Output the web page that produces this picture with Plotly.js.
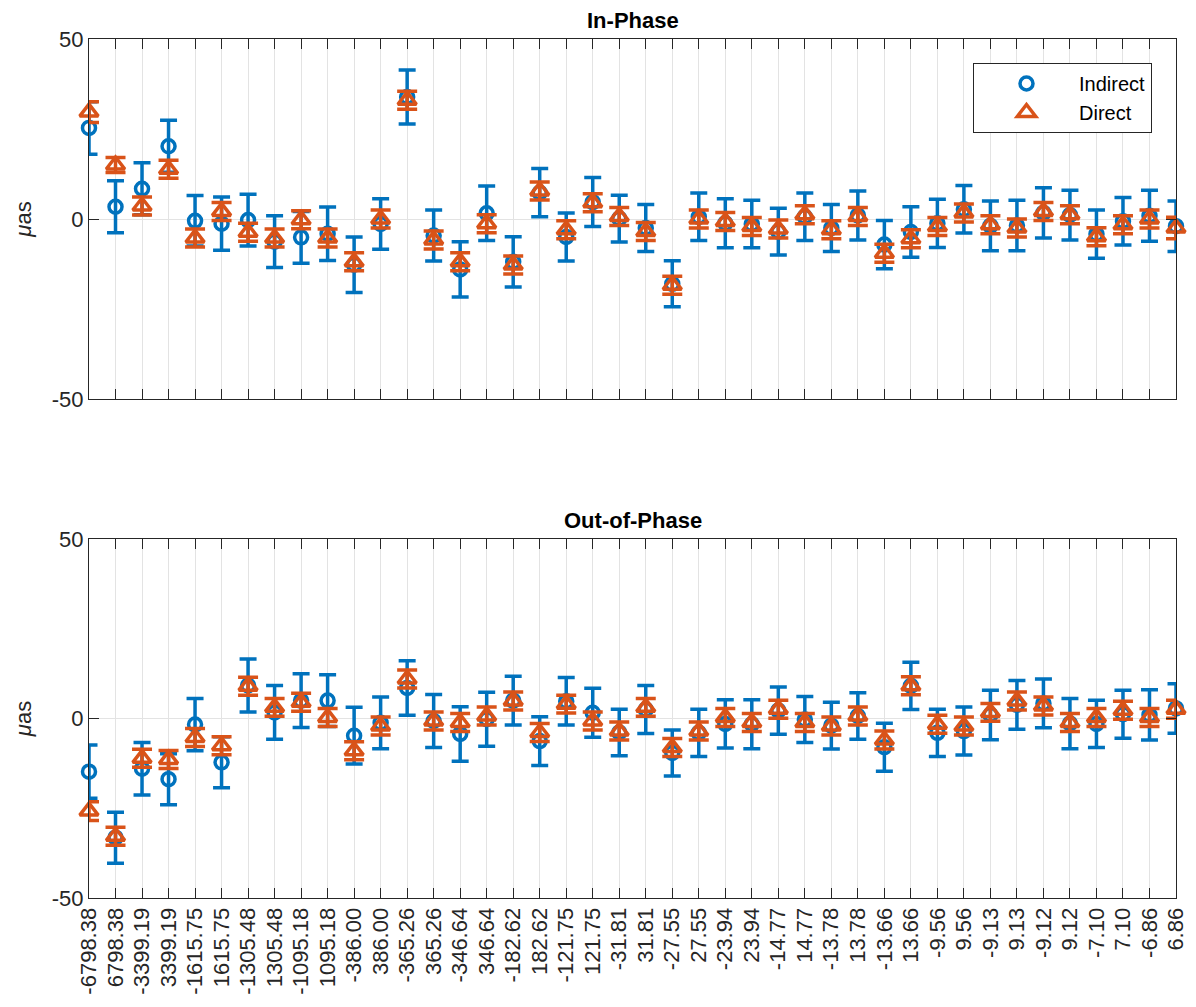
<!DOCTYPE html>
<html>
<head>
<meta charset="utf-8">
<script src="https://cdn.plot.ly/plotly-3.0.1.min.js"></script>
<style>html,body{margin:0;padding:0;background:#fff;}#chart{width:1196px;height:1007px;}</style>
</head>
<body>
<div id="chart"></div>
<script>
const periods = ["-6798.38","6798.38","-3399.19","3399.19","-1615.75","1615.75","-1305.48","1305.48","-1095.18","1095.18","-386.00","386.00","-365.26","365.26","-346.64","346.64","-182.62","182.62","-121.75","121.75","-31.81","31.81","-27.55","27.55","-23.94","23.94","-14.77","14.77","-13.78","13.78","-13.66","13.66","-9.56","9.56","-9.13","9.13","-9.12","9.12","-7.10","7.10","-6.86","6.86"];

// In-Phase
const inIndirect = [25.3,3.4,8.4,20.2,-0.5,-1.3,-0.3,-6.3,-5.1,-4.1,-12.7,-1.4,33.9,-4.6,-14.0,1.6,-11.9,7.3,-5.0,4.7,0.1,-2.5,-18.0,0.6,-1.2,-1.4,-3.5,0.6,-2.5,1.0,-7.1,-3.6,-1.2,2.7,-1.9,-1.8,1.7,1.1,-4.2,-0.6,0.9,-2.0];
const inIndirectErr = [7.3,7.2,7.2,7.2,7.0,7.4,7.2,7.2,7.2,7.4,7.7,7.0,7.5,7.1,7.7,7.6,7.0,6.7,6.7,6.8,6.5,6.5,6.4,6.6,6.8,6.6,6.5,6.6,6.5,6.8,6.7,7.0,6.7,6.6,6.9,7.0,7.0,6.9,6.7,6.6,7.1,7.0];
const inDirect = [29.7,15.0,3.6,13.8,-5.3,2.1,-3.7,-5.3,-0.2,-5.3,-11.9,0.0,33.0,-5.8,-11.9,-1.3,-12.8,7.8,-3.0,4.5,0.7,-3.5,-18.4,0.0,-0.7,-2.1,-2.8,1.2,-3.0,0.7,-9.5,-5.5,-2.1,1.7,-1.6,-2.5,2.1,1.2,-4.9,-1.6,0.0,-2.5];
const inDirectErr = [2.9,2.1,2.5,2.5,2.5,2.5,2.5,2.5,2.5,2.5,2.5,2.5,2.5,2.5,2.5,2.5,2.5,2.5,2.5,2.5,2.5,2.5,2.5,2.5,2.5,2.5,2.5,2.5,2.5,2.5,2.5,2.5,2.5,2.5,2.5,2.5,2.5,2.5,2.5,2.5,2.5,3.0];

// Out-of-Phase
const outIndirect = [-14.8,-33.2,-14.0,-16.9,-1.7,-12.2,9.2,1.7,5.0,5.0,-4.8,-1.2,8.5,-0.7,-4.3,-0.2,5.0,-6.3,4.8,1.6,-3.9,2.5,-9.6,-4.0,-1.5,-1.6,2.2,-0.3,-2.0,0.7,-8.0,9.1,-4.0,-3.5,1.0,3.8,4.2,-1.4,-1.5,1.2,1.0,2.8];
const outIndirectErr = [7.4,7.1,7.3,7.1,7.3,7.1,7.4,7.5,7.5,7.2,7.9,7.2,7.6,7.4,7.6,7.5,6.8,6.8,6.6,6.8,6.5,6.7,6.4,6.6,6.7,6.8,6.6,6.4,6.5,6.5,6.7,6.6,6.6,6.7,6.9,6.8,6.8,7.0,6.6,6.7,7.0,6.9];
const outDirect = [-25.8,-32.8,-11.1,-11.4,-5.3,-7.6,9.0,3.1,4.5,0.3,-9.0,-2.1,11.0,-0.7,-1.1,0.7,4.9,-3.9,4.0,-0.7,-3.5,3.1,-8.1,-3.5,0.3,-1.1,2.6,-1.1,-2.1,0.7,-6.0,9.1,-1.6,-2.1,1.7,4.9,3.5,-1.1,0.3,2.3,0.3,2.6];
const outDirectErr = [2.6,2.5,2.5,2.5,2.5,2.5,2.5,2.5,2.5,2.5,2.5,2.5,2.5,2.5,2.5,2.5,2.5,2.5,2.5,2.5,2.5,2.5,2.5,2.5,2.5,2.5,2.5,2.5,2.5,2.5,2.5,2.5,2.5,2.5,2.5,2.5,2.5,2.5,2.5,2.5,2.5,2.5];

const yTicks = [-50, 0, 50];
const yTickText = ["-50", "0", "50"];

const idx = periods.map((_, i) => i + 1);
const blue = '#0072BD', orange = '#D95319';
const FONT = 'Liberation Sans, Arial, Helvetica, sans-serif';

function mk(name, y, err, color, symbol, size, xa, ya, showlegend, capw) {
  return {
    type: 'scatter', mode: 'markers', name: name, x: idx, y: y,
    xaxis: xa, yaxis: ya, showlegend: showlegend, legendgroup: name,
    cliponaxis: false,
    marker: {symbol: symbol, size: size, color: color, line: {color: color, width: 3.5}},
    error_y: {type: 'data', array: err, visible: true, color: color, thickness: 3.5, width: capw}
  };
}

const traces = [
  mk('Indirect', inIndirect, inIndirectErr, blue, 'circle-open', 13, 'x', 'y', true, 8.5),
  mk('Direct', inDirect, inDirectErr, orange, 'triangle-up-open', 16, 'x', 'y', true, 10),
  mk('Indirect', outIndirect, outIndirectErr, blue, 'circle-open', 13, 'x2', 'y2', false, 8.5),
  mk('Direct', outDirect, outDirectErr, orange, 'triangle-up-open', 16, 'x2', 'y2', false, 10)
];

const W = 1196, H = 1007;
const xdom = [89 / W, 1176 / W];
const axCommon = {
  range: [1, 42], tickmode: 'array', tickvals: idx,
  ticks: 'inside', ticklen: 10, tickcolor: '#262626', tickwidth: 1,
  showline: true, linecolor: '#262626', linewidth: 1, mirror: 'ticks',
  showgrid: true, gridcolor: '#e3e3e3', gridwidth: 1, zeroline: false,
  fixedrange: true
};
const yCommon = {
  range: [-50, 50], tickmode: 'array', tickvals: yTicks, ticktext: yTickText,
  ticks: 'inside', ticklen: 10, tickcolor: '#262626', tickwidth: 1,
  showline: true, linecolor: '#262626', linewidth: 1, mirror: 'ticks',
  showgrid: true, gridcolor: '#e3e3e3', zeroline: false,
  tickfont: {family: FONT, size: 22, color: '#262626'},
  title: {text: '<i>μ</i>as', font: {family: FONT, size: 22, color: '#262626'}, standoff: 14},
  fixedrange: true
};

const layout = {
  width: W, height: H,
  margin: {l: 0, r: 0, t: 0, b: 0},
  paper_bgcolor: '#fff', plot_bgcolor: '#fff',
  font: {family: FONT, color: '#262626'},
  xaxis: Object.assign({}, axCommon, {domain: xdom, anchor: 'y', showticklabels: false, ticktext: periods}),
  yaxis: Object.assign({}, yCommon, {domain: [1 - 399 / H, 1 - 39 / H], anchor: 'x'}),
  xaxis2: Object.assign({}, axCommon, {domain: xdom, anchor: 'y2', ticktext: periods, tickangle: -90,
    tickfont: {family: FONT, size: 22, color: '#262626'}}),
  yaxis2: Object.assign({}, yCommon, {domain: [1 - 898 / H, 1 - 539 / H], anchor: 'x2'}),
  showlegend: true,
  legend: {
    x: 973 / W, y: 1 - 63 / H, xanchor: 'left', yanchor: 'top',
    bgcolor: '#fff', bordercolor: '#262626', borderwidth: 1,
    font: {family: FONT, size: 20, color: '#000'},
    itemwidth: 95, tracegroupgap: 0
  },
  annotations: [
    {text: '<b>In-Phase</b>', xref: 'paper', yref: 'paper', x: (89 + 1176) / 2 / W, y: 1 - 20 / H,
     xanchor: 'center', yanchor: 'middle', showarrow: false, font: {family: FONT, size: 22, color: '#000'}},
    {text: '<b>Out-of-Phase</b>', xref: 'paper', yref: 'paper', x: (89 + 1176) / 2 / W, y: 1 - 520 / H,
     xanchor: 'center', yanchor: 'middle', showarrow: false, font: {family: FONT, size: 22, color: '#000'}}
  ]
};

Plotly.newPlot('chart', traces, layout, {displayModeBar: false, staticPlot: true});
</script>
</body>
</html>
